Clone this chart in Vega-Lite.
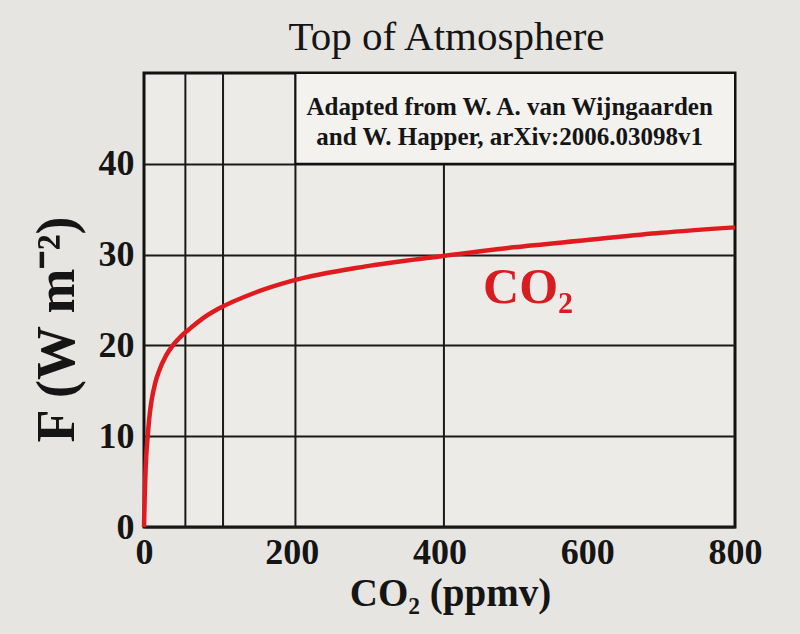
{
  "$schema": "https://vega.github.io/schema/vega-lite/v6.json",
  "width": 591,
  "height": 454,
  "autosize": "none",
  "padding": {"left": 144, "top": 73, "right": 65, "bottom": 107},
  "background": "#e7e5e1",
  "config": {
    "view": {"fill": "#edebe8", "stroke": "#111111", "strokeWidth": 3},
    "font": "Liberation Serif"
  },
  "title": {
    "text": "Top of Atmosphere",
    "font": "Liberation Serif",
    "fontSize": 41,
    "fontWeight": "normal",
    "color": "#151515",
    "anchor": "middle",
    "frame": "group",
    "baseline": "alphabetic",
    "offset": 0,
    "dy": 19,
    "dx": 7
  },
  "datasets": {
    "curve": [
      {"co2": 0, "F": 0},
      {"co2": 1, "F": 3.5},
      {"co2": 2, "F": 6},
      {"co2": 3, "F": 7.8},
      {"co2": 5, "F": 10},
      {"co2": 8, "F": 12.6},
      {"co2": 10, "F": 13.8},
      {"co2": 15, "F": 15.8},
      {"co2": 20, "F": 17.1},
      {"co2": 30, "F": 18.9},
      {"co2": 40, "F": 20.1},
      {"co2": 50, "F": 21.0},
      {"co2": 60, "F": 21.7},
      {"co2": 80, "F": 23.0},
      {"co2": 100, "F": 24.0},
      {"co2": 150, "F": 25.8},
      {"co2": 200, "F": 27.1},
      {"co2": 300, "F": 28.7},
      {"co2": 400, "F": 29.8},
      {"co2": 500, "F": 30.8},
      {"co2": 600, "F": 31.6},
      {"co2": 700, "F": 32.4},
      {"co2": 800, "F": 33.0}
    ],
    "vgrid": [{"g": 56}, {"g": 107}, {"g": 205}, {"g": 406}],
    "box": [{"x1": 205, "x2": 800, "y1": 40, "y2": 50}],
    "notes": [
      {"x": 495, "y": 45.4, "label": "Adapted from W. A. van Wijngaarden"},
      {"x": 495, "y": 42.1, "label": "and W. Happer, arXiv:2006.03098v1"}
    ],
    "series": [{"x": 459, "y": 24.7, "label": "CO₂"}]
  },
  "layer": [
    {
      "data": {"name": "vgrid"},
      "mark": {"type": "rule", "strokeWidth": 2, "color": "#1a1a1a"},
      "encoding": {
        "x": {
          "field": "g", "type": "quantitative",
          "scale": {"domain": [0, 800], "nice": false, "zero": false},
          "axis": {
            "values": [0, 200, 400, 600, 800],
            "labelFont": "Liberation Serif",
            "labelFontSize": 36,
            "labelFontWeight": "bold",
            "labelColor": "#151515",
            "labelFlush": false,
            "labelPadding": 8,
            "ticks": false,
            "domain": false,
            "grid": false,
            "title": "CO₂ (ppmv)",
            "titleFont": "Liberation Serif",
            "titleFontSize": 39,
            "titleFontWeight": "bold",
            "titleColor": "#151515",
            "titlePadding": 4,
            "titleX": 306
          }
        }
      }
    },
    {
      "data": {"name": "box"},
      "mark": {"type": "rect", "fill": "#f3f2ef", "stroke": "#111111", "strokeWidth": 2},
      "encoding": {
        "x": {"field": "x1", "type": "quantitative"},
        "x2": {"field": "x2"},
        "y": {
          "field": "y1", "type": "quantitative",
          "scale": {"domain": [0, 50], "nice": false},
          "axis": {
            "values": [0, 10, 20, 30, 40],
            "labelFont": "Liberation Serif",
            "labelFontSize": 36,
            "labelFontWeight": "bold",
            "labelColor": "#151515",
            "labelPadding": 10,
            "ticks": false,
            "domain": false,
            "grid": true,
            "gridColor": "#1a1a1a",
            "gridWidth": 2,
            "gridOpacity": 1,
            "title": "F (W m⁻²)",
            "titleFont": "Liberation Serif",
            "titleFontSize": 54,
            "titleFontWeight": "bold",
            "titleColor": "#151515",
            "titlePadding": 14,
            "titleY": 256
          }
        },
        "y2": {"field": "y2"}
      }
    },
    {
      "data": {"name": "notes"},
      "mark": {"type": "text", "font": "Liberation Serif", "fontSize": 25, "fontWeight": "bold", "color": "#151515", "align": "center", "baseline": "alphabetic"},
      "encoding": {
        "x": {"field": "x", "type": "quantitative"},
        "y": {"field": "y", "type": "quantitative"},
        "text": {"field": "label"}
      }
    },
    {
      "data": {"name": "curve"},
      "mark": {"type": "line", "color": "#e01b1f", "strokeWidth": 4.5, "interpolate": "monotone"},
      "encoding": {
        "x": {"field": "co2", "type": "quantitative"},
        "y": {"field": "F", "type": "quantitative"}
      }
    },
    {
      "data": {"name": "series"},
      "mark": {"type": "text", "font": "Liberation Serif", "fontSize": 50, "fontWeight": "bold", "color": "#d81c1f", "align": "left", "baseline": "alphabetic"},
      "encoding": {
        "x": {"field": "x", "type": "quantitative"},
        "y": {"field": "y", "type": "quantitative"},
        "text": {"field": "label"}
      }
    }
  ]
}
